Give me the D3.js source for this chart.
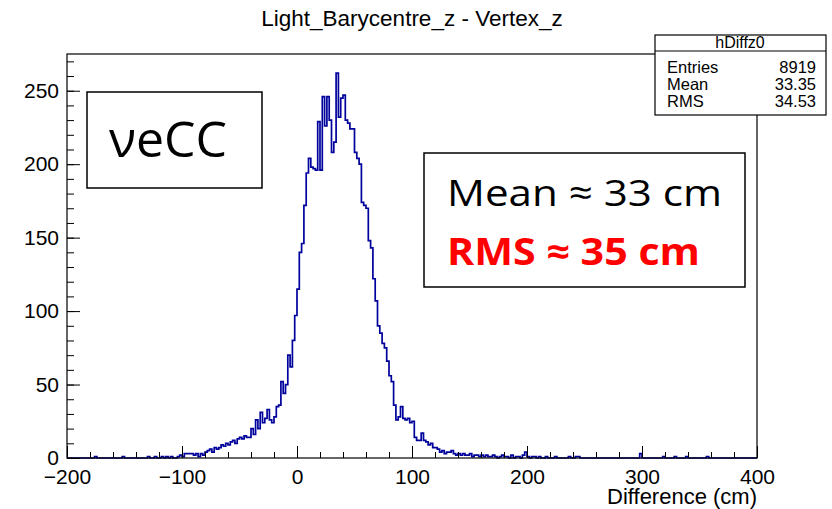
<!DOCTYPE html>
<html>
<head>
<meta charset="utf-8">
<script src="https://cdn.jsdelivr.net/npm/d3@7"></script>
<style>
  body { margin: 0; background: #fff; }
  svg { display: block; }
  .tick text { font-family: "Liberation Sans", Arial, sans-serif; }
</style>
</head>
<body>
<svg id="chart" width="832" height="509"></svg>
<script>
// histogram hDiffz0: 300 bins of 2 cm from -200 to 400
var xMin = -200, binWidth = 2;
var counts = [
  0,0,0,0,0,0,0,0,0,0,          // -200
  0,0,1,0,0,0,0,0,0,0,          // -180
  0,0,0,0,1,0,0,0,0,0,          // -160
  0,0,0,0,0,1,0,0,1,0,          // -140
  0,1,0,1,0,1,0,0,1,2,          // -120
  1,3,3,3,3,2,3,1,3,2,          // -100
  4,5,6,4,7,6,7,9,8,10,         // -80
  9,11,12,10,13,14,13,15,14,14, // -60
  20,16,26,20,31,24,27,33,26,24,  // -40
  28,35,36,52,44,50,70,62,80,97,  // -20
  115,140,146,172,194,204,198,197,196,229, // 0
  196,246,226,246,230,208,215,262,232,245, // 20
  247,230,228,224,224,208,204,200,174,172, // 40
  170,148,143,122,107,90,85,78,75,66,      // 60
  56,52,36,26,28,35,27,26,27,24,  // 80
  25,14,12,12,17,12,11,9,10,7,    // 100
  7,6,4,5,3,4,4,5,3,2,            // 120
  3,2,3,2,2,3,1,2,2,1,            // 140
  2,1,2,1,1,2,1,0,1,2,            // 160
  1,1,0,2,0,1,1,0,2,4,            // 180
  1,0,1,1,0,1,0,0,1,0,            // 200
  0,0,1,0,0,0,0,0,1,0,            // 220
  0,1,1,0,0,0,0,0,0,0,            // 240
  0,0,0,0,0,0,0,0,0,0,            // 260
  0,0,0,0,0,0,0,0,0,3,            // 280
  0,0,0,0,0,0,0,0,0,1,            // 300
  0,0,0,0,1,0,0,0,0,1,            // 320
  0,0,0,0,0,0,0,0,1,0,            // 340
  0,0,0,0,0,0,0,0,0,0,            // 360
  0,0,0,0,0,0,0,0,0,0             // 380
];

var xTicks = [-200, -100, 0, 100, 200, 300, 400];
var xMinorTicks = d3.range(-200, 401, 20);
var yTicks = [0, 50, 100, 150, 200, 250];
var yMinorTicks = d3.range(0, 271, 10);

var statLabels = ["Entries", "Mean", "RMS"];
var statValues = ["8919", "33.35", "34.53"];

var svg = d3.select("#chart");
var fLeft = 67, fRight = 757, fTop = 54, fBottom = 458;

var x = d3.scaleLinear().domain([-200, 400]).range([fLeft, fRight]);
var y = d3.scaleLinear().domain([0, 275]).range([fBottom, fTop]);

// title
svg.append("text")
  .attr("x", 412).attr("y", 26)
  .attr("text-anchor", "middle")
  .style("font-family", "Liberation Sans, Arial, sans-serif")
  .style("font-size", "22.5px")
  .text("Light_Barycentre_z - Vertex_z");

// histogram as steps
var pts = counts.map(function(c, i){ return [xMin + i*binWidth, c]; });
pts.push([xMin + counts.length*binWidth, counts[counts.length-1]]);
var line = d3.line()
  .x(function(d){ return x(d[0]); })
  .y(function(d){ return y(d[1]); })
  .curve(d3.curveStepAfter);
svg.append("path")
  .datum(pts)
  .attr("d", line)
  .attr("fill", "none")
  .attr("stroke", "#00009c")
  .attr("stroke-width", 1.7);

// minor ticks
svg.append("g")
  .attr("transform", "translate(0," + fBottom + ")")
  .call(d3.axisBottom(x).tickValues(xMinorTicks).tickSize(-6).tickFormat(""))
  .call(function(g){ g.select(".domain").remove(); });
svg.append("g")
  .attr("transform", "translate(" + fLeft + ",0)")
  .call(d3.axisLeft(y).tickValues(yMinorTicks).tickSize(-7).tickFormat(""))
  .call(function(g){ g.select(".domain").remove(); });

// major ticks + labels
svg.append("g")
  .attr("transform", "translate(0," + fBottom + ")")
  .call(d3.axisBottom(x).tickValues(xTicks).tickSize(-12).tickPadding(11)
    .tickFormat(function(d){ return d < 0 ? "\u2212" + (-d) : d; }))
  .call(function(g){ g.select(".domain").remove(); })
  .selectAll("text").style("font-size", "21px").attr("fill", "#000");
svg.append("g")
  .attr("transform", "translate(" + fLeft + ",0)")
  .call(d3.axisLeft(y).tickValues(yTicks).tickSize(-13).tickPadding(8))
  .call(function(g){ g.select(".domain").remove(); })
  .selectAll("text").style("font-size", "21px").attr("fill", "#000");

svg.selectAll(".tick line").attr("stroke", "#000");

// frame
svg.append("rect")
  .attr("x", fLeft).attr("y", fTop)
  .attr("width", fRight - fLeft).attr("height", fBottom - fTop)
  .attr("fill", "none").attr("stroke", "#000").attr("stroke-width", 1.2);

// x axis title
svg.append("text")
  .attr("x", fRight).attr("y", 504)
  .attr("text-anchor", "end")
  .style("font-family", "Liberation Sans, Arial, sans-serif")
  .style("font-size", "22px")
  .text("Difference (cm)");

// stats box
var sb = svg.append("g");
sb.append("rect").attr("x", 655).attr("y", 35).attr("width", 171).attr("height", 80)
  .attr("fill", "#fff").attr("stroke", "#000").attr("stroke-width", 1.2);
sb.append("line").attr("x1", 655).attr("x2", 826).attr("y1", 51).attr("y2", 51)
  .attr("stroke", "#000").attr("stroke-width", 1);
sb.append("text").attr("x", 740).attr("y", 48).attr("text-anchor", "middle")
  .style("font-family", "Liberation Sans, Arial, sans-serif").style("font-size", "16px")
  .text("hDiffz0");
statLabels.forEach(function(l, i){
  sb.append("text").attr("x", 667).attr("y", 73 + i*17)
    .style("font-family", "Liberation Sans, Arial, sans-serif").style("font-size", "16.5px")
    .text(l);
  sb.append("text").attr("x", 816).attr("y", 73 + i*17).attr("text-anchor", "end")
    .style("font-family", "Liberation Sans, Arial, sans-serif").style("font-size", "16.5px")
    .text(statValues[i]);
});

// annotation boxes
svg.append("rect").attr("x", 87).attr("y", 92).attr("width", 175).attr("height", 96)
  .attr("fill", "#fff").attr("stroke", "#000").attr("stroke-width", 1.5);
svg.append("text").attr("x", 168).attr("y", 157).attr("text-anchor", "middle")
  .style("font-family", "Open Sans, sans-serif").style("font-size", "50px")
  .text("\u03bdeCC");

svg.append("rect").attr("x", 424).attr("y", 153).attr("width", 321).attr("height", 134)
  .attr("fill", "#fff").attr("stroke", "#000").attr("stroke-width", 1.5);
svg.append("text").attr("x", 447).attr("y", 206)
  .attr("textLength", 275).attr("lengthAdjust", "spacingAndGlyphs")
  .style("font-family", "Open Sans, sans-serif").style("font-size", "37px")
  .text("Mean \u2248 33 cm");
svg.append("text").attr("x", 447).attr("y", 265)
  .attr("textLength", 253).attr("lengthAdjust", "spacingAndGlyphs")
  .attr("fill", "#ff0000")
  .style("font-family", "Open Sans, sans-serif").style("font-size", "37px").style("font-weight", "bold")
  .text("RMS \u2248 35 cm");
</script>
</body>
</html>
